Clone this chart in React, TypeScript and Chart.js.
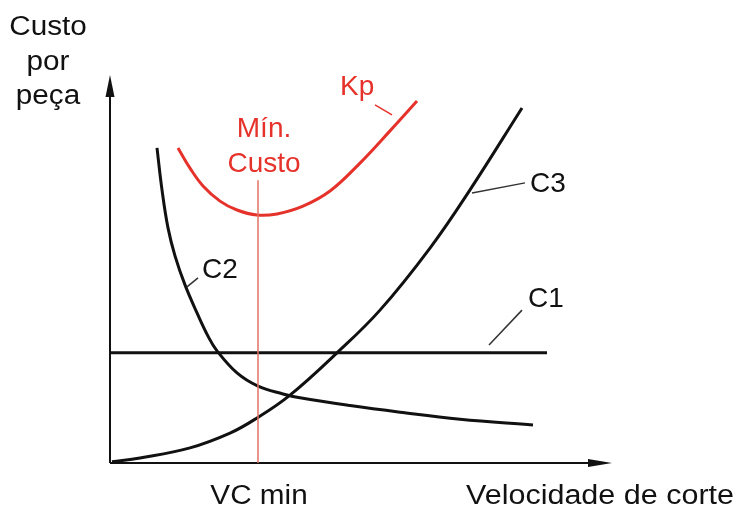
import React, { useEffect, useRef } from "react";
import { Chart, registerables } from "chart.js";

Chart.register(...registerables);

// Curve C1 (constant cost)
const c1X = [0, 8.74];
const c1Y = [2.84, 2.84];

// Curve C2 (decreasing)
const c2X = [0.94, 1.04, 1.16, 1.3, 1.5, 1.74, 1.96, 2.14, 2.54, 2.96, 3.46, 3.8, 4.8, 5.8, 7.0, 8.46];
const c2Y = [8.12, 7.04, 6.06, 5.34, 4.59, 3.87, 3.27, 2.89, 2.32, 1.98, 1.78, 1.68, 1.48, 1.31, 1.13, 0.98];

// Curve C3 (increasing)
const c3X = [0.04, 0.6, 1.6, 2.4, 2.94, 3.6, 4.54, 5.4, 6.4, 7.2, 8.24];
const c3Y = [0.03, 0.13, 0.39, 0.77, 1.16, 1.75, 2.84, 3.94, 5.54, 7.04, 9.15];

// Curve Kp (total cost)
const kpX = [1.36, 1.6, 1.86, 2.2, 2.54, 2.94, 3.34, 3.86, 4.4, 5.0, 5.6, 6.14];
const kpY = [8.12, 7.6, 7.14, 6.75, 6.52, 6.39, 6.42, 6.62, 7.01, 7.73, 8.56, 9.33];

// Minimum cost speed marker
const vcMin = 2.96;
const vcLineTop = 7.29;

// Curve labels and their leader lines
const curveLabels = ["C1", "C2", "C3", "Kp"];
const curveLabelX = [8.36, 1.84, 8.4, 4.6];
const curveLabelY = [4.02, 4.77, 6.98, 9.48];
const leaderX1 = [7.58, 1.54, 7.24, 5.3];
const leaderY1 = [3.04, 4.54, 6.96, 9.23];
const leaderX2 = [8.24, 1.76, 8.3, 5.64];
const leaderY2 = [3.94, 4.77, 7.22, 8.97];

const minLabels = ["Mín.", "Custo"];
const minLabelY = [8.4, 7.5];

const yTitle = ["Custo", "por", "peça"];
const xTitle = "Velocidade de corte";
const vcLabel = "VC min";

const RED = "#e5322b";
const BLACK = "#111111";
const FONT = '28px "Liberation Sans", Arial, sans-serif';
const TITLE_FONT = '27px "Liberation Sans", Arial, sans-serif';
const TITLE_STRETCH = 1.1;

const pts = (xs: number[], ys: number[]) => xs.map((x, i) => ({ x, y: ys[i] }));

const stretchedText = (ctx: any, text: string, x: number, y: number, align: string, k = TITLE_STRETCH) => {
  ctx.save();
  ctx.translate(x, y);
  ctx.scale(k, 1);
  ctx.textAlign = align;
  ctx.fillText(text, 0, 0);
  ctx.restore();
};

const annot = {
  id: "annot",
  beforeDatasetsDraw(chart: any) {
    const { ctx, chartArea } = chart;
    const { left, top, right, bottom } = chartArea;
    ctx.save();
    ctx.strokeStyle = BLACK;
    ctx.fillStyle = BLACK;
    ctx.lineWidth = 2;
    // y axis
    ctx.beginPath();
    ctx.moveTo(left, bottom);
    ctx.lineTo(left, top + 10);
    ctx.stroke();
    ctx.beginPath();
    ctx.moveTo(left, top);
    ctx.lineTo(left - 4.5, top + 22);
    ctx.lineTo(left + 4.5, top + 22);
    ctx.closePath();
    ctx.fill();
    // x axis
    const tip = right + 2;
    ctx.beginPath();
    ctx.moveTo(left, bottom);
    ctx.lineTo(tip - 10, bottom);
    ctx.stroke();
    ctx.beginPath();
    ctx.moveTo(tip, bottom);
    ctx.lineTo(tip - 24, bottom - 4);
    ctx.lineTo(tip - 24, bottom + 4);
    ctx.closePath();
    ctx.fill();
    ctx.restore();
  },
  afterDatasetsDraw(chart: any) {
    const { ctx, scales, chartArea } = chart;
    const xs = scales.x;
    const ys = scales.y;
    ctx.save();
    // leader lines
    ctx.lineWidth = 1.5;
    curveLabels.forEach((lab, i) => {
      ctx.strokeStyle = lab === "Kp" ? RED : "#333333";
      ctx.beginPath();
      ctx.moveTo(xs.getPixelForValue(leaderX1[i]), ys.getPixelForValue(leaderY1[i]));
      ctx.lineTo(xs.getPixelForValue(leaderX2[i]), ys.getPixelForValue(leaderY2[i]));
      ctx.stroke();
    });
    ctx.font = FONT;
    ctx.textBaseline = "alphabetic";
    ctx.textAlign = "left";
    curveLabels.forEach((lab, i) => {
      ctx.fillStyle = lab === "Kp" ? RED : BLACK;
      ctx.fillText(lab, xs.getPixelForValue(curveLabelX[i]), ys.getPixelForValue(curveLabelY[i]));
    });
    // Min cost labels
    ctx.textAlign = "center";
    ctx.fillStyle = RED;
    minLabels.forEach((t, i) => {
      ctx.fillText(t, xs.getPixelForValue(vcMin + 0.12), ys.getPixelForValue(minLabelY[i]));
    });
    // axis titles
    ctx.font = TITLE_FONT;
    ctx.fillStyle = BLACK;
    stretchedText(ctx, vcLabel, xs.getPixelForValue(vcMin) + 1, chartArea.bottom + 41, "center");
    stretchedText(ctx, xTitle, 734, chartArea.bottom + 41, "right", 1.13);
    yTitle.forEach((t, i) => {
      stretchedText(ctx, t, chartArea.left - 62, 35 + i * 34.5, "center");
    });
    ctx.restore();
  },
};

export default function App() {
  const ref = useRef<HTMLCanvasElement | null>(null);
  useEffect(() => {
    if (!ref.current) return;
    const base = {
      showLine: true,
      pointRadius: 0,
      pointHoverRadius: 0,
      fill: false,
      clip: false as any,
      tension: 0.4,
    };
    const chart = new Chart(ref.current, {
      type: "scatter",
      data: {
        datasets: [
          { ...base, label: "VC min", tension: 0, data: pts([vcMin, vcMin], [0, vcLineTop]), borderColor: "#e27262", borderWidth: 1.5 },
          { ...base, label: "C1", tension: 0, data: pts(c1X, c1Y), borderColor: BLACK, borderWidth: 3 },
          { ...base, label: "C2", data: pts(c2X, c2Y), borderColor: BLACK, borderWidth: 3 },
          { ...base, label: "C3", data: pts(c3X, c3Y), borderColor: BLACK, borderWidth: 3 },
          { ...base, label: "Kp", data: pts(kpX, kpY), borderColor: RED, borderWidth: 3 },
        ],
      },
      options: {
        animation: false,
        responsive: false,
        events: [],
        layout: { padding: { left: 110, right: 126, top: 75, bottom: 43 } },
        plugins: { legend: { display: false }, tooltip: { enabled: false } },
        scales: {
          x: { type: "linear", min: 0, max: 10, display: false },
          y: { type: "linear", min: 0, max: 10, display: false },
        },
      },
      plugins: [annot],
    });
    return () => chart.destroy();
  }, []);
  return (
    <div style={{ position: "fixed", left: 0, top: 0, width: 736, height: 506, background: "#fff" }}>
      <canvas ref={ref} width={736} height={506} />
    </div>
  );
}
